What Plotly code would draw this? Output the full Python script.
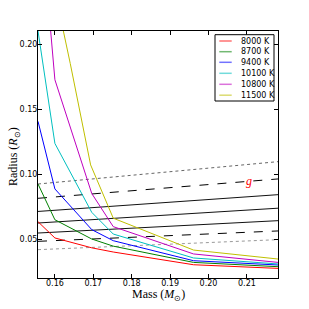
import plotly.graph_objects as go

# Temperature tracks: mass (Msun) vs radius (Rsun)
labels = ["8000 K", "8700 K", "9400 K", "10100 K", "10800 K", "11500 K"]
colors = ["#ff0000", "#008000", "#0000ff", "#00bfbf", "#bf00bf", "#bfbf00"]
mass_grid = [0.1556, 0.160, 0.1696, 0.1752, 0.1961, 0.2181]
r_8000 = [0.0633, 0.0508, 0.0432, 0.0400, 0.0302, 0.0274]
r_8700 = [0.0923, 0.0648, 0.0500, 0.0445, 0.0320, 0.0287]
r_9400 = [0.1405, 0.0885, 0.0572, 0.0487, 0.0333, 0.0300]
r_10100 = [0.2100, 0.1235, 0.0705, 0.0538, 0.0354, 0.0308]
r_10800 = [0.3220, 0.1725, 0.0850, 0.0595, 0.0385, 0.0320]
mass_11500 = [0.160, 0.1640, 0.1693, 0.1752, 0.1961, 0.2181]
r_11500 = [0.2406, 0.1850, 0.1070, 0.0660, 0.0415, 0.0346]

# constant-g reference lines (left/right radius at the axis edges)
g_mass = [0.1556, 0.2181]
g_lines = [
    ([0.0923, 0.1095], "dot", "#666666"),
    ([0.0813, 0.0962], "dash", "#000000"),
    ([0.0712, 0.0841], "solid", "#111111"),
    ([0.0623, 0.0737], "solid", "#111111"),
    ([0.0546, 0.0641], "solid", "#111111"),
    ([0.0482, 0.0562], "dash", "#000000"),
    ([0.0418, 0.0495], "dot", "#999999"),
]

W = H = 309
ML, MR, MT, MB = 38, 31, 31, 31
PW = W - ML - MR
PH = H - MT - MB


def px_x(p):  # window pixel -> paper x
    return (p - ML) / PW


def px_y(p):  # window pixel -> paper y
    return (H - MB - p) / PH


fig = go.Figure()
for vals, dash, col in g_lines:
    fig.add_trace(go.Scatter(x=g_mass, y=vals, mode="lines", showlegend=False,
                             line=dict(color=col, width=1, dash=dash), hoverinfo="skip"))

tracks = [(mass_grid, r_8000), (mass_grid, r_8700), (mass_grid, r_9400),
          (mass_grid, r_10100), (mass_grid, r_10800), (mass_11500, r_11500)]
for (m, r), lab, col in zip(tracks, labels, colors):
    fig.add_trace(go.Scatter(x=m, y=r, mode="lines", name=lab, showlegend=False,
                             line=dict(color=col, width=1)))

# compact legend box (paper coordinates)
shapes = [dict(type="rect", xref="paper", yref="paper", x0=px_x(215), x1=px_x(274),
               y0=px_y(101), y1=px_y(34.7), line=dict(color="black", width=1),
               fillcolor="white", layer="above")]
annotations = []
entry_py = [41, 51.7, 62.3, 73.3, 84.3, 95.2]
for lab, col, py in zip(labels, colors, entry_py):
    yp = px_y(py)
    shapes.append(dict(type="line", xref="paper", yref="paper", x0=px_x(219.3),
                       x1=px_x(231.7), y0=yp, y1=yp, opacity=0.55,
                       line=dict(color=col, width=1.5), layer="above"))
    annotations.append(dict(xref="paper", yref="paper", x=px_x(239), y=yp,
                            xanchor="left", yanchor="middle", text=lab, showarrow=False,
                            font=dict(family="DejaVu Sans", size=8, color="black")))

annotations.append(dict(x=0.2105, y=0.0945, text="<i>g</i>", showarrow=False,
                        font=dict(family="Liberation Serif", size=12, color="red")))
annotations.append(dict(xref="paper", yref="paper", x=0.5, y=px_y(294.5),
                        xanchor="center", yanchor="middle", showarrow=False,
                        text="Mass (<i>M</i><sub>⊙</sub>)",
                        font=dict(family="Liberation Serif", size=12, color="black")))
annotations.append(dict(xref="paper", yref="paper", x=px_x(14), y=px_y(157),
                        xanchor="center", yanchor="middle", showarrow=False, textangle=-90,
                        text="Radius (<i>R</i><sub>⊙</sub>)",
                        font=dict(family="Liberation Serif", size=12, color="black")))

axis_common = dict(showline=True, linecolor="black", linewidth=1, mirror="allticks",
                   ticks="inside", ticklen=4, tickcolor="black", showgrid=False,
                   zeroline=False, automargin=False,
                   tickfont=dict(family="DejaVu Sans", size=8, color="black"))

fig.update_layout(
    width=W, height=H,
    margin=dict(l=ML, r=MR, t=MT, b=MB),
    paper_bgcolor="white", plot_bgcolor="white",
    showlegend=False,
    xaxis=dict(range=[0.1556, 0.2181], tickvals=[0.16, 0.17, 0.18, 0.19, 0.20, 0.21],
               ticktext=["0.16", "0.17", "0.18", "0.19", "0.20", "0.21"],
               ticklabelstandoff=-3, **axis_common),
    yaxis=dict(range=[0.02, 0.21], tickvals=[0.05, 0.10, 0.15, 0.20],
               ticktext=["0.05", "0.10", "0.15", "0.20"],
               ticklabelstandoff=-2, **axis_common),
    shapes=shapes,
    annotations=annotations,
)

fig.write_html("out.html", config={"displayModeBar": False},
               post_script="document.body.style.margin='0';document.body.style.overflow='hidden';")
